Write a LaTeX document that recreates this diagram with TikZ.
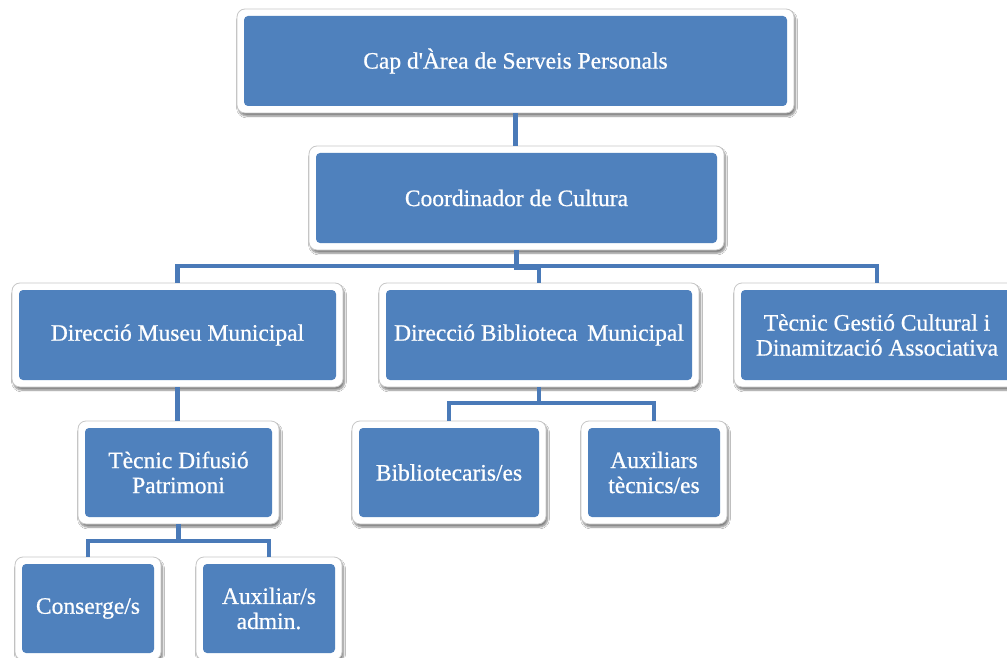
\documentclass[tikz,border=0pt]{standalone}
\usepackage{fontspec}
\setmainfont[FakeBold=0.7,AutoFakeBold=0.7]{Liberation Serif}
\newfontfamily\boxfont[FakeBold=0.7]{Liberation Serif}
\usetikzlibrary{shadows.blur}
\definecolor{ob}{HTML}{4F81BD}
\definecolor{conn}{RGB}{74,122,184}
\tikzset{
  outerbox/.style={fill=white, draw=black!22, line width=0.8pt, rounded corners=8pt, inner sep=0pt,
    blur shadow={shadow xshift=1.5pt, shadow yshift=-3pt, shadow blur steps=6, shadow opacity=50}},
  innerbox/.style={fill=ob, rounded corners=4pt, inner sep=0pt, text=white, align=center,
    font=\boxfont\fontsize{23.5}{25}\selectfont},
  conline/.style={draw=conn, line width=4.5pt},
}
\newcommand\orgbox[6]{%
  \node[outerbox, minimum width=#4pt+14pt, minimum height=#5pt+14pt] (#1o) at (#2,#3) {};
  \node[innerbox, minimum width=#4pt, minimum height=#5pt] (#1) at (#2,#3) {#6};
}
\begin{document}
\begin{tikzpicture}[x=1pt,y=-1pt]
\useasboundingbox (0,0) rectangle (1007,658);
\clip (0,0) rectangle (1007,658);
\fill[white] (0,0) rectangle (1007,658);
\coordinate (j0) at (0,266);
\coordinate (j1) at (516,268);
\coordinate (j2) at (0,403);
\coordinate (j3) at (0,541);
\orgbox{A}{515.5}{61}{543}{90}{Cap d\textquotesingle Àrea de Serveis Personals}
\orgbox{B}{516.5}{198}{401}{90}{Coordinador de Cultura}
\orgbox{C1}{177.5}{335}{317}{90}{Direcció Museu Municipal}
\orgbox{C2}{539}{335}{306}{90}{Direcció Biblioteca\, Municipal}
\orgbox{C3}{877}{335}{272}{90}{Tècnic Gestió Cultural i\\Dinamització Associativa}
\orgbox{D1}{178.5}{472.5}{187}{89}{Tècnic Difusió\\Patrimoni}
\orgbox{F1}{449}{472.5}{180}{89}{Bibliotecaris/es}
\orgbox{F2}{654}{472.5}{132}{89}{Auxiliars\\tècnics/es}
\orgbox{E1}{88}{608.5}{132}{89}{Conserge/s}
\orgbox{E2}{269}{608.5}{132}{89}{Auxiliar/s\\admin.}
% connectors
\draw[conline] (Ao.south) -- (Ao.south |- Bo.north);
\draw[conline] (Bo.south) -- (Bo.south |- j1) -| (C2o.north);
\draw[conline] (C1o.north) |- (C3o.north |- j0) -- (C3o.north);
\draw[conline] (C1o.south) -- (C1o.south |- D1o.north);
\draw[conline] (C2o.south) -- (C2o.south |- j2);
\draw[conline] (F1o.north) |- (F2o.north |- j2) -- (F2o.north);
\draw[conline] (D1o.south) -- (D1o.south |- j3);
\draw[conline] (E1o.north) |- (E2o.north |- j3) -- (E2o.north);
\end{tikzpicture}
\end{document}
